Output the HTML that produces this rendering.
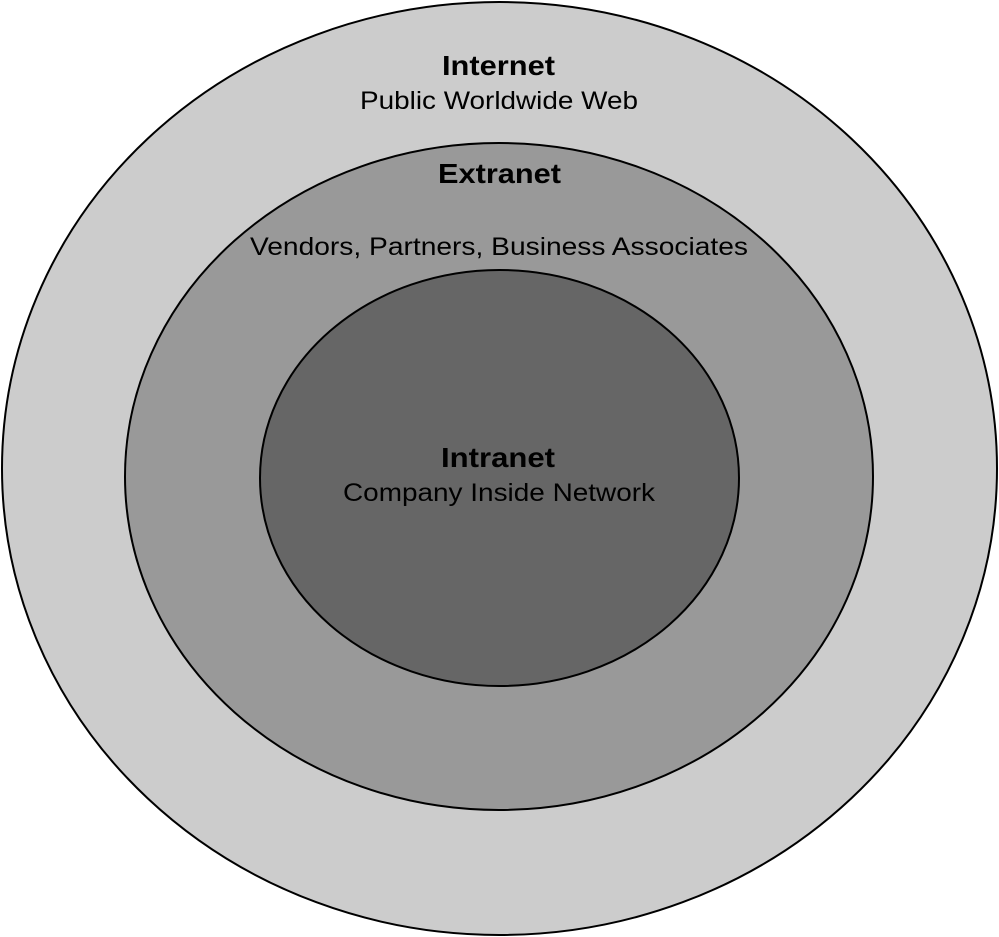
<!DOCTYPE html>
<html><head><meta charset="utf-8"><style>
html,body{margin:0;padding:0;background:#fff;}
svg{display:block;}
text{font-family:"Liberation Sans",Arial,sans-serif;fill:#000;}
</style></head><body>
<svg width="999" height="937" viewBox="0 0 999 937" xmlns="http://www.w3.org/2000/svg">
<ellipse cx="499.5" cy="468.5" rx="497.5" ry="466.5" fill="#cccccc" stroke="#000" stroke-width="2"/>
<ellipse cx="499" cy="476.5" rx="374" ry="333.5" fill="#999999" stroke="#000" stroke-width="2"/>
<ellipse cx="499.5" cy="478" rx="239.5" ry="208" fill="#666666" stroke="#000" stroke-width="2"/>
<text x="442" y="75" font-size="28" font-weight="bold" textLength="113" lengthAdjust="spacingAndGlyphs">Internet</text>
<text x="360" y="109" font-size="25" textLength="278" lengthAdjust="spacingAndGlyphs">Public Worldwide Web</text>
<text x="438" y="183" font-size="28" font-weight="bold" textLength="123" lengthAdjust="spacingAndGlyphs">Extranet</text>
<text x="250" y="255" font-size="25" textLength="498" lengthAdjust="spacingAndGlyphs">Vendors, Partners, Business Associates</text>
<text x="441" y="467" font-size="28" font-weight="bold" textLength="114" lengthAdjust="spacingAndGlyphs">Intranet</text>
<text x="343" y="501" font-size="25" textLength="312" lengthAdjust="spacingAndGlyphs">Company Inside Network</text>
</svg>
</body></html>
